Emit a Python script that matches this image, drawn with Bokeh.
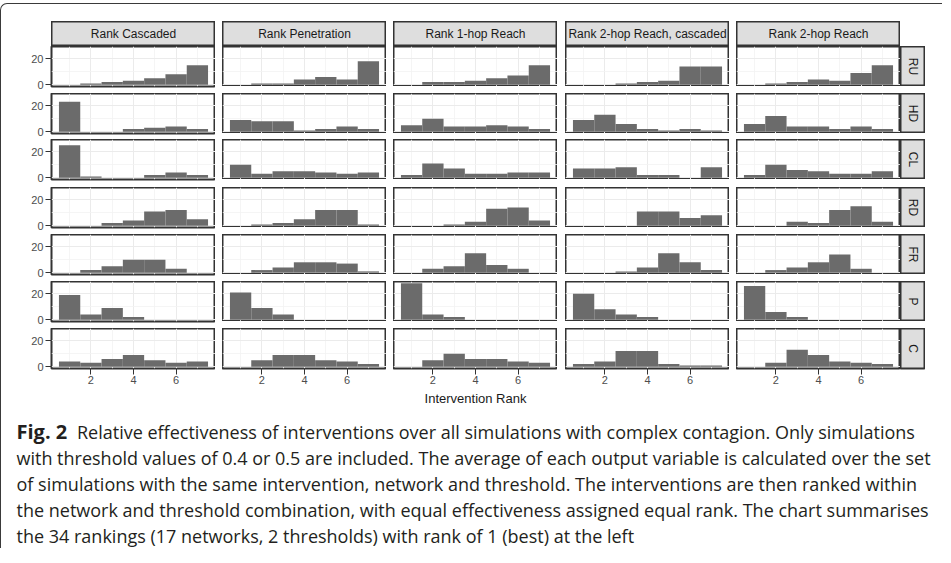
import math
from bokeh.plotting import figure
from bokeh.models import Range1d, FixedTicker, ColumnDataSource, Spacer
from bokeh.layouts import row, column
from bokeh.core.properties import value
from bokeh.embed import file_html
from bokeh.resources import INLINE

# ---------------- data ----------------
ranks = [1, 2, 3, 4, 5, 6, 7]
measures = ["Rank Cascaded", "Rank Penetration", "Rank 1-hop Reach",
            "Rank 2-hop Reach, cascaded", "Rank 2-hop Reach"]
interventions = ["RU", "HD", "CL", "RD", "FR", "P", "C"]
x_ticks = [2, 4, 6]
x_minor = [1, 3, 5, 7]
y_ticks = [0, 20]
y_minor = [10]

# counts per rank 1..7, one list per measure (same order as `measures`)
ru = [[0, 1, 2, 3, 5, 8, 15], [0, 1, 1, 4, 6, 4, 18], [0, 2, 2, 3, 5, 7, 15],
      [0, 0, 1, 2, 3, 14, 14], [0, 1, 2, 4, 3, 9, 15]]
hd = [[23, 0, 0, 2, 3, 4, 2], [9, 8, 8, 1, 2, 4, 2], [5, 10, 4, 4, 5, 4, 2],
      [9, 13, 6, 2, 1, 2, 1], [6, 12, 4, 4, 2, 4, 2]]
cl = [[25, 1, 0, 0, 2, 4, 2], [10, 3, 5, 5, 4, 3, 4], [2, 11, 7, 3, 3, 4, 4],
      [7, 7, 8, 2, 2, 0, 8], [2, 10, 6, 5, 3, 3, 5]]
rd = [[0, 0, 2, 4, 11, 12, 5], [0, 1, 2, 5, 12, 12, 1], [0, 0, 1, 3, 13, 14, 4],
      [0, 0, 0, 11, 11, 6, 8], [0, 0, 3, 2, 12, 15, 3]]
fr = [[0, 2, 5, 10, 10, 3, 0], [0, 2, 4, 8, 8, 7, 1], [0, 3, 5, 15, 6, 3, 0],
      [0, 0, 1, 4, 15, 8, 2], [0, 2, 4, 8, 14, 3, 0]]
pp = [[19, 4, 9, 2, 0, 0, 0], [21, 9, 4, 0, 0, 0, 0], [28, 4, 2, 0, 0, 0, 0],
      [20, 8, 4, 2, 0, 0, 0], [26, 6, 2, 0, 0, 0, 0]]
cc = [[4, 3, 6, 9, 5, 3, 4], [0, 5, 9, 9, 5, 4, 2], [0, 5, 10, 6, 6, 4, 3],
      [2, 4, 12, 12, 2, 1, 1], [0, 3, 13, 9, 4, 3, 2]]
counts = [ru, hd, cl, rd, fr, pp, cc]

x_title = "Intervention Rank"
caption_bold = "Fig. 2"
caption_lines = [
    "Relative effectiveness of interventions over all simulations with complex contagion. Only simulations",
    "with threshold values of 0.4 or 0.5 are included. The average of each output variable is calculated over the set",
    "of simulations with the same intervention, network and threshold. The interventions are then ranked within",
    "the network and threshold combination, with equal effectiveness assigned equal rank. The chart summarises",
    "the 34 rankings (17 networks, 2 thresholds) with rank of 1 (best) at the left",
]

# ---------------- style / layout ----------------
PW, PH = 164, 40
LEFT = 50
BOT = 38
LBL_PAD = 6          # room under left-column panels for the "0" tick label
STRIP_H = 25
STRIP_W = 25
COL_GAPS = [7, 7, 8, 7]
ROW_GAPS = [7, 6, 8, 7, 7, 7]
BAR = "#6b6b6b"
BORDER = "#333333"
STRIP_FILL = "#DEDEDE"
GRID = "#EBEBEB"
AX_TEXT = "#4D4D4D"
FONT = "Liberation Sans"
CAP_FONT = "Open Sans"
CAP_SIZE = "18px"
XR = (0.15, 7.85)
YR = (-1.4, 29.4)


def style_axis(ax, ticks, standoff):
    ax.ticker = FixedTicker(ticks=ticks)
    ax.axis_line_color = None
    ax.major_tick_line_color = BORDER
    ax.major_tick_out = 6
    ax.major_tick_in = 0
    ax.minor_tick_line_color = None
    ax.major_label_text_font = FONT
    ax.major_label_text_font_size = "11px"
    ax.major_label_text_color = AX_TEXT
    ax.major_label_standoff = standoff


def panel(cnts, first_col, last_row, xlabel=None):
    if last_row:
        bottom = BOT
    elif first_col:
        bottom = LBL_PAD
    else:
        bottom = 0
    p = figure(frame_width=PW, frame_height=PH,
               x_range=Range1d(*XR), y_range=Range1d(*YR),
               output_backend="svg", toolbar_location=None,
               x_axis_location="below" if last_row else None,
               y_axis_location="left" if first_col else None,
               min_border_left=LEFT if first_col else 0, min_border_right=0,
               min_border_top=0, min_border_bottom=bottom, align="start")
    p.outline_line_color = BORDER
    p.outline_line_width = 2
    p.background_fill_color = "white"
    p.border_fill_color = "white"
    p.xgrid.ticker = FixedTicker(ticks=x_ticks, minor_ticks=x_minor)
    p.ygrid.ticker = FixedTicker(ticks=y_ticks, minor_ticks=y_minor)
    p.grid.grid_line_color = GRID
    p.grid.grid_line_width = 1
    p.grid.minor_grid_line_color = "#F2F2F2"
    p.grid.minor_grid_line_width = 0.8
    if first_col:
        style_axis(p.yaxis[0], y_ticks, 2)
    if last_row:
        style_axis(p.xaxis[0], x_ticks, 1)
        if xlabel:
            ax = p.xaxis[0]
            ax.axis_label = xlabel
            ax.axis_label_text_font = FONT
            ax.axis_label_text_font_size = "13px"
            ax.axis_label_text_font_style = "normal"
            ax.axis_label_text_color = "#1A1A1A"
            ax.axis_label_standoff = 4
    src = ColumnDataSource(dict(
        left=[r - 0.5 for r, c in zip(ranks, cnts) if c > 0],
        right=[r + 0.5 for r, c in zip(ranks, cnts) if c > 0],
        top=[c for c in cnts if c > 0]))
    p.quad(left="left", right="right", bottom=0, top="top", source=src,
           fill_color=BAR, line_color=None)
    return p


def strip(label, w, h, vertical=False, extra_bottom=0):
    p = figure(frame_width=w, frame_height=h,
               x_range=Range1d(0, 1), y_range=Range1d(0, 1),
               output_backend="svg", toolbar_location=None,
               min_border_left=0, min_border_right=0, min_border_top=0,
               min_border_bottom=extra_bottom,
               x_axis_location=None, y_axis_location=None, align="start")
    p.grid.visible = False
    p.background_fill_color = STRIP_FILL
    p.border_fill_color = "white"
    p.outline_line_color = BORDER
    p.outline_line_width = 2
    p.text(x=[0.5], y=[0.5], text=[label], angle=-math.pi / 2 if vertical else 0,
           text_align="center", text_baseline="middle",
           text_font=value(FONT), text_font_size="12px", text_color="#1A1A1A")
    return p


# header row
hdr = [Spacer(width=LEFT, height=STRIP_H)]
for j, m in enumerate(measures):
    hdr.append(strip(m, PW, STRIP_H))
    if j < len(COL_GAPS):
        hdr.append(Spacer(width=COL_GAPS[j], height=STRIP_H))
rows = [Spacer(width=900, height=17), row(*hdr)]

n = len(interventions)
for i, iv in enumerate(interventions):
    last = i == n - 1
    items = []
    for j in range(len(measures)):
        items.append(panel(counts[i][j], j == 0, last,
                           x_title if (last and j == 2) else None))
        if j < len(COL_GAPS):
            items.append(Spacer(width=COL_GAPS[j], height=PH))
    items.append(strip(iv, STRIP_W, PH, vertical=True,
                       extra_bottom=BOT if last else 0))
    rows.append(row(*items))
    if i < len(ROW_GAPS):
        gap = ROW_GAPS[i] - LBL_PAD
        if gap > 0:
            rows.append(Spacer(width=10, height=gap))

# caption
CW, CH = 941, 140
cap = figure(width=CW, height=CH, x_range=Range1d(0, CW), y_range=Range1d(CH, 0),
             output_backend="svg", toolbar_location=None, min_border=0,
             x_axis_location=None, y_axis_location=None)
cap.grid.visible = False
cap.outline_line_color = None
LINE0 = 23
LSP = 26
cap.text(x=[15], y=[LINE0], text=[caption_bold], text_font=value(CAP_FONT),
         text_font_style="bold", text_font_size="20px", text_baseline="middle",
         text_color="#231F20")
cap_src = ColumnDataSource(dict(
    x=[75.5] + [15] * (len(caption_lines) - 1),
    y=[LINE0 + k * LSP for k in range(len(caption_lines))],
    text=caption_lines))
cap.text(x="x", y="y", text="text", source=cap_src, text_font=value(CAP_FONT),
         text_font_size=CAP_SIZE, text_baseline="middle", text_color="#231F20")
rows.append(cap)

root = column(*rows, styles={"position": "relative", "top": "3px",
                             "border-top": "1.5px solid #3a3a3a",
                             "border-left": "1.5px solid #3a3a3a",
                             "border-top-left-radius": "7px"})

open("out.html", "w").write(file_html(root, INLINE))
